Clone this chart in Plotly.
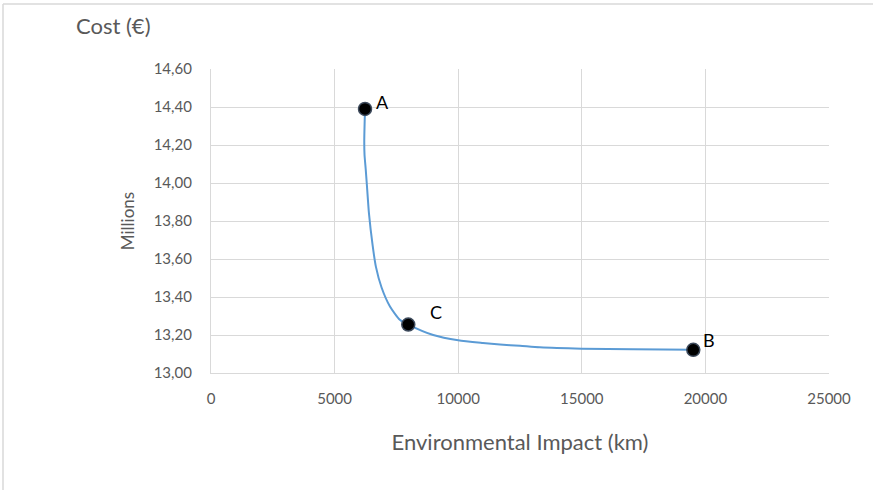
import plotly.graph_objects as go

# Pareto front: environmental impact (km) vs cost (millions €)
curve_x = [6230, 6200, 6210, 6260, 6300, 6390, 6540, 6670, 6900, 7240, 7640, 7980,
           8990, 10000, 11000, 11690, 12500, 13300, 15000, 17080, 19510]
curve_y = [14.39, 14.22, 14.15, 14.07, 14.00, 13.84, 13.67, 13.56, 13.45, 13.35, 13.28, 13.255,
           13.20, 13.172, 13.158, 13.150, 13.143, 13.135, 13.128, 13.125, 13.122]

point_labels = ["A", "C", "B"]
point_x = [6230, 7980, 19510]
point_y = [14.39, 13.255, 13.122]
label_dx = [17, 28, 16]
label_dy = [7, 13, 10]

x_ticks = [0, 5000, 10000, 15000, 20000, 25000]
y_ticks = [13.0, 13.2, 13.4, 13.6, 13.8, 14.0, 14.2, 14.4, 14.6]

FONT = "Lato"
GRAY = "#595959"

fig = go.Figure()
fig.add_trace(go.Scatter(
    x=curve_x, y=curve_y, mode="lines",
    line=dict(color="#5B9BD5", width=2, shape="spline", smoothing=0.6),
    hoverinfo="skip", showlegend=False,
))
fig.add_trace(go.Scatter(
    x=point_x, y=point_y, mode="markers",
    marker=dict(color="black", size=13, line=dict(color="#3D4A5C", width=1.5)),
    showlegend=False,
))

annotations = [
    dict(text="Cost (€)", xref="paper", yref="paper",
         x=(74 - 211) / 618, y=(373 - 25) / 304, xanchor="left", yanchor="middle",
         showarrow=False, font=dict(family=FONT, size=22, color=GRAY)),
]
for lab, px, py, dx, dy in zip(point_labels, point_x, point_y, label_dx, label_dy):
    annotations.append(dict(text=lab, x=px, y=py, xref="x", yref="y", showarrow=False,
                            xshift=dx, yshift=dy,
                            font=dict(family=FONT, size=18, color="black")))

bx0 = (3 - 211) / 618
by1 = (373 - 4) / 304
fig.update_layout(
    width=873, height=490,
    margin=dict(l=211, r=44, t=69, b=117),
    paper_bgcolor="white", plot_bgcolor="white",
    separators=",.",
    font=dict(family=FONT, color=GRAY),
    xaxis=dict(
        range=[0, 25000], tickvals=x_ticks, ticktext=[str(v) for v in x_ticks],
        showgrid=True, gridcolor="#D9D9D9", gridwidth=1.2,
        showline=True, linecolor="#D9D9D9", linewidth=1.2,
        zeroline=False, ticks="outside", ticklen=12, tickcolor="rgba(0,0,0,0)",
        tickfont=dict(family=FONT, size=15, color=GRAY),
        title=dict(text="Environmental Impact (km)", font=dict(family=FONT, size=22, color=GRAY), standoff=28),
    ),
    yaxis=dict(
        range=[13.0, 14.6], tickvals=y_ticks, tickformat=".2f",
        showgrid=True, gridcolor="#D9D9D9", gridwidth=1.2,
        showline=True, linecolor="#D9D9D9", linewidth=1.2,
        zeroline=False, ticks="outside", ticklen=15, tickcolor="rgba(0,0,0,0)",
        tickfont=dict(family=FONT, size=15, color=GRAY),
        title=dict(text="Millions", font=dict(family=FONT, size=17, color=GRAY), standoff=14),
    ),
    annotations=annotations,
    shapes=[
        dict(type="line", xref="paper", yref="paper", x0=bx0, x1=1.1, y0=by1, y1=by1,
             line=dict(color="#D9D9D9", width=1.5), layer="below"),
        dict(type="line", xref="paper", yref="paper", x0=bx0, x1=bx0, y0=-0.5, y1=by1,
             line=dict(color="#D9D9D9", width=1.5), layer="below"),
    ],
)

fig.write_html("out.html", config={"displayModeBar": False},
               post_script="document.body.style.margin='0';document.body.style.overflow='hidden';")
